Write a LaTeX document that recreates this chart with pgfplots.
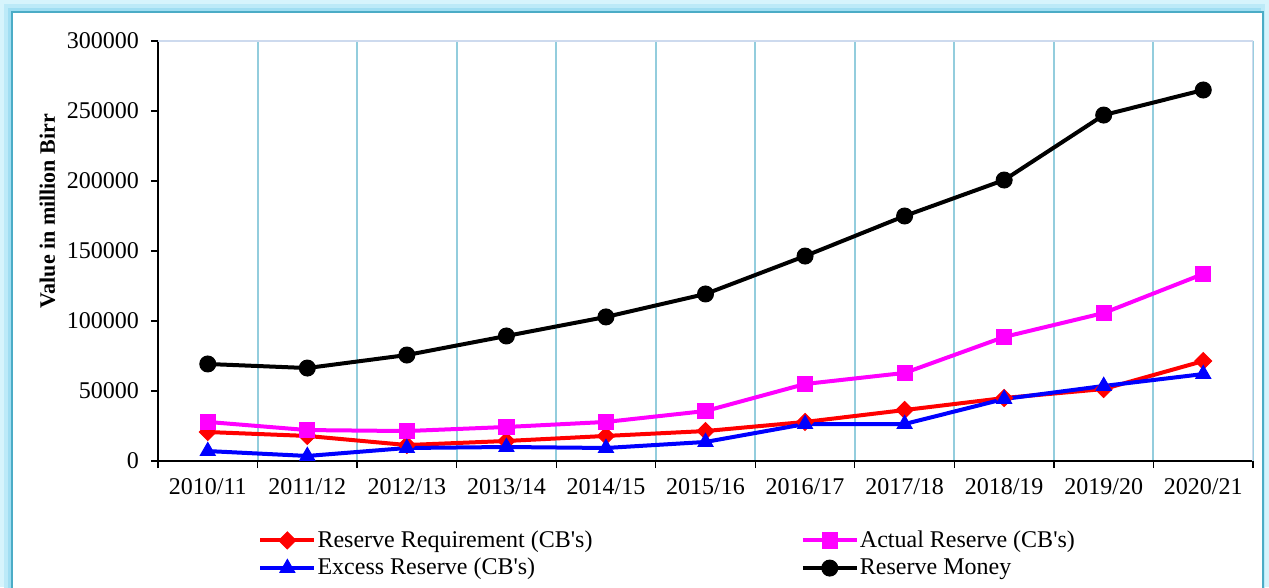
\documentclass[border=0pt]{standalone}
\usepackage{fontspec}
\setmainfont{Liberation Serif}
\usepackage{pgfplots}
\pgfplotsset{compat=1.18}

\definecolor{glowA}{RGB}{214,244,252}
\definecolor{glowB}{RGB}{188,234,248}
\definecolor{glowC}{RGB}{160,222,242}
\definecolor{frameline}{RGB}{75,172,198}
\definecolor{gridblue}{RGB}{147,205,221}
\definecolor{boxline}{RGB}{205,218,238}
\definecolor{pmagenta}{RGB}{255,0,255}
\definecolor{pred}{RGB}{255,0,0}
\definecolor{pblue}{RGB}{0,0,255}

\begin{document}
\begin{tikzpicture}[x=1bp,y=1bp]
\useasboundingbox (0,0) rectangle (634.5,293.5);
% glowing frame
\fill[glowA] (0,0) rectangle (634.5,293.5);
\fill[glowB] (2,-5) rectangle (632.5,291.5);
\fill[glowC] (4,-5) rectangle (630.5,289.5);
\filldraw[fill=white, draw=frameline, line width=1bp] (6,-5) rectangle (631.5,287.5);

\begin{axis}[
    at={(79bp,63bp)}, anchor=south west,
    scale only axis,
    width=547.5bp, height=210bp,
    xmin=0.5, xmax=11.5,
    ymin=0, ymax=300000,
    axis x line*=bottom, axis y line*=left,
    axis line style={black, line width=0.6bp, -},
    tick align=outside,
    major tick length=3.5bp,
    tick style={black, line width=0.6bp},
    xtick={0.5,1.5,...,11.5},
    xticklabels={2010/11,2011/12,2012/13,2013/14,2014/15,2015/16,2016/17,2017/18,2018/19,2019/20,2020/21,{}},
    xticklabel style={xshift=24.886bp, yshift=-1.5bp, font=\fontsize{12bp}{13bp}\selectfont},
    ytick={0,50000,...,300000},
    scaled y ticks=false,
    yticklabel style={xshift=-2.5bp, /pgf/number format/fixed, /pgf/number format/1000 sep={}, font=\fontsize{12bp}{13bp}\selectfont},
    /pgf/number format/assume math mode=true,
    xmajorgrids=true, ymajorgrids=false,
    major grid style={gridblue, line width=1bp},
    ylabel={\textbf{Value in million Birr}},
    ylabel style={at={(axis description cs:-0.101,0.595)}, anchor=center, font=\fontsize{11bp}{12bp}\selectfont},
    legend columns=2,
    legend cell align=left,
    legend style={at={(axis description cs:0.0913,-0.222)}, anchor=west,
        draw=none, fill=none, inner sep=0pt, row sep=2.8bp,
        nodes={inner sep=0.6bp},
        font=\fontsize{12bp}{13bp}\selectfont},
    legend image code/.code={\draw[mark repeat=2, mark phase=2] plot coordinates {(0bp,0bp) (13.5bp,0bp) (27bp,0bp)};},
]
\draw[boxline, line width=1bp] (rel axis cs:0,1) -- (rel axis cs:1,1) -- (rel axis cs:1,0);

\addplot[pred, line width=2bp, mark=square*, mark size=3bp, mark options={solid, fill=pred, line width=0.5bp, rotate=45}]
    coordinates {(1,20700) (2,17900) (3,11400) (4,14300) (5,17900) (6,21400) (7,27900) (8,36400) (9,45000) (10,51400) (11,71400)};
\addlegendentry{\makebox[241bp][l]{Reserve Requirement (CB\textquotesingle s)}}

\addplot[pmagenta, line width=2bp, mark=square*, mark size=3.8bp, mark options={solid, fill=pmagenta, line width=0.5bp}]
    coordinates {(1,27900) (2,22100) (3,21400) (4,24300) (5,27900) (6,35700) (7,55000) (8,62900) (9,88600) (10,105700) (11,133600)};
\addlegendentry{Actual Reserve (CB\textquotesingle s)}

\addplot[pblue, line width=2bp, mark=triangle*, mark size=4.3bp, mark options={solid, fill=pblue, line width=0.5bp}]
    coordinates {(1,7100) (2,3600) (3,9300) (4,10000) (5,9300) (6,13600) (7,26400) (8,26400) (9,44300) (10,53600) (11,62100)};
\addlegendentry{\makebox[241bp][l]{Excess Reserve (CB\textquotesingle s)}}

\addplot[black, line width=2bp, mark=*, mark size=4bp, mark options={solid, fill=black, line width=0.5bp}]
    coordinates {(1,69300) (2,66400) (3,75700) (4,89300) (5,102900) (6,119300) (7,146400) (8,175000) (9,200700) (10,247100) (11,265000)};
\addlegendentry{Reserve Money}
\end{axis}
\end{tikzpicture}
\end{document}
